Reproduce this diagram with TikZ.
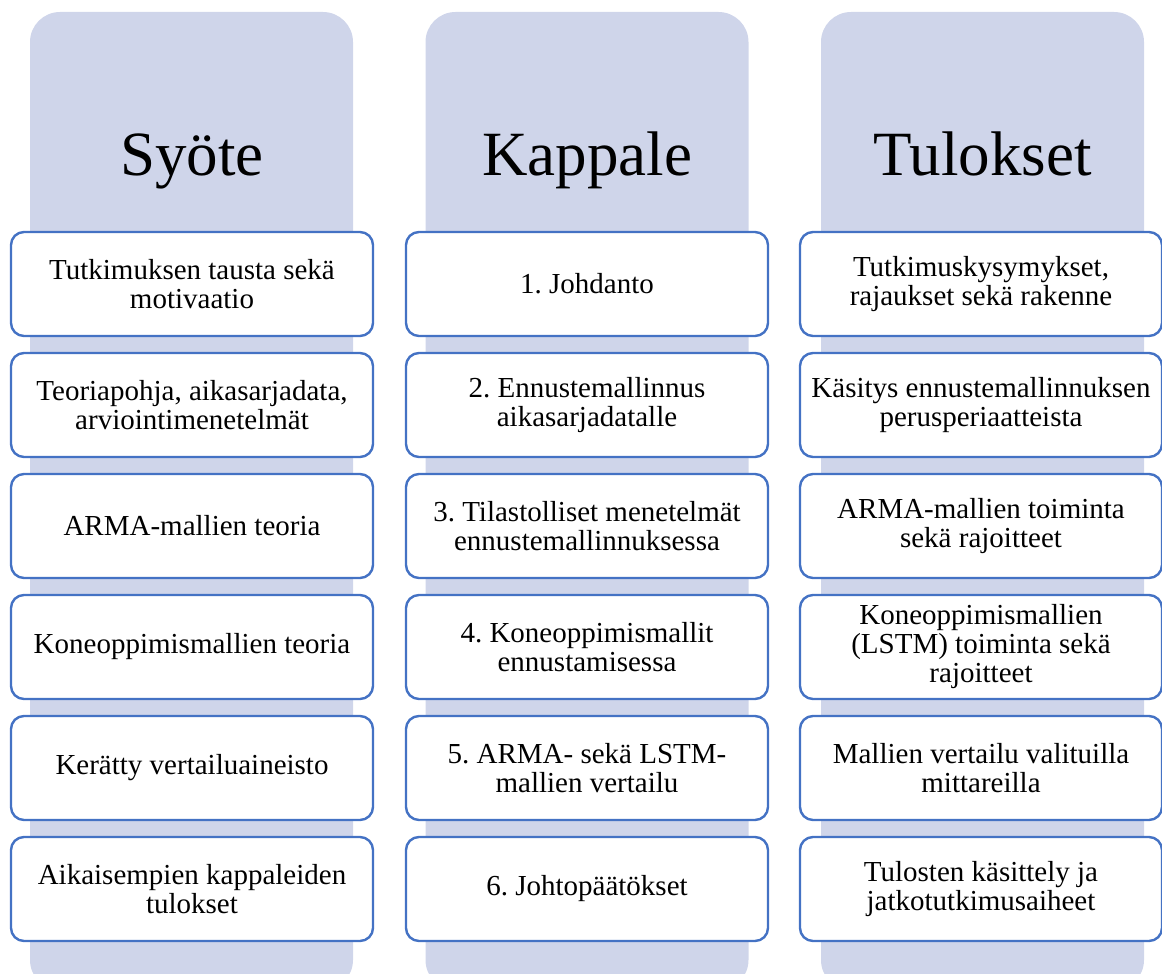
\documentclass[tikz,border=0pt]{standalone}
\usepackage{fontspec}
\setmainfont{Liberation Serif}
\frenchspacing
\definecolor{lane}{HTML}{CFD5EA}
\definecolor{frame}{HTML}{4472C4}
\begin{document}
\begin{tikzpicture}[x=1pt,y=-1pt,
  lanebox/.style={fill=lane, draw=none, rounded corners=30pt, minimum width=323pt, minimum height=978pt, inner sep=0pt, outer sep=0pt},
  title/.style={anchor=base, font=\fontsize{63pt}{68pt}\selectfont},
  item/.style={draw=frame, line width=2.4pt, fill=white, rounded corners=13pt,
    minimum width=362pt, minimum height=104pt, inner sep=2pt, outer sep=0pt,
    align=center, font=\fontsize{29pt}{29pt}\selectfont}]
\useasboundingbox (0,0) rectangle (1162,974);
\clip (0,0) rectangle (1162,974);

% background lanes
\node[lanebox] (lane1) at (191.5,501) {};
\node[lanebox] (lane2) at (587,501) {};
\node[lanebox] (lane3) at (982.5,501) {};

% lane titles
\node[title] (t1) at (192,175) {Syöte};
\node[title] (t2) at (587,175) {Kappale};
\node[title] (t3) at (982.5,175) {Tulokset};

% first lane
\node[item] (a1) at (192,284) {Tutkimuksen tausta sekä\\motivaatio};
\node[item] (a2) at (192,405) {Teoriapohja, aikasarjadata,\\arviointimenetelmät};
\node[item] (a3) at (192,526) {ARMA-mallien teoria};
\node[item] (a4) at (192,647) {Koneoppimismallien teoria};
\node[item] (a5) at (192,768) {Kerätty vertailuaineisto};
\node[item] (a6) at (192,889) {Aikaisempien kappaleiden\\tulokset};

% second lane
\node[item] (b1) at (587,284) {1. Johdanto};
\node[item] (b2) at (587,405) {2. Ennustemallinnus\\aikasarjadatalle};
\node[item] (b3) at (587,526) {3. Tilastolliset menetelmät\\ennustemallinnuksessa};
\node[item] (b4) at (587,647) {4. Koneoppimismallit\\ennustamisessa};
\node[item] (b5) at (587,768) {5. ARMA- sekä LSTM-\\mallien vertailu};
\node[item] (b6) at (587,889) {6. Johtopäätökset};

% third lane
\node[item] (c1) at (981,284) {Tutkimuskysymykset,\\rajaukset sekä rakenne};
\node[item] (c2) at (981,405) {Käsitys ennustemallinnuksen\\perusperiaatteista};
\node[item] (c3) at (981,526) {ARMA-mallien toiminta\\sekä rajoitteet};
\node[item] (c4) at (981,647) {Koneoppimismallien\\(LSTM) toiminta sekä\\rajoitteet};
\node[item] (c5) at (981,768) {Mallien vertailu valituilla\\mittareilla};
\node[item] (c6) at (981,889) {Tulosten käsittely ja\\jatkotutkimusaiheet};
\end{tikzpicture}
\end{document}
